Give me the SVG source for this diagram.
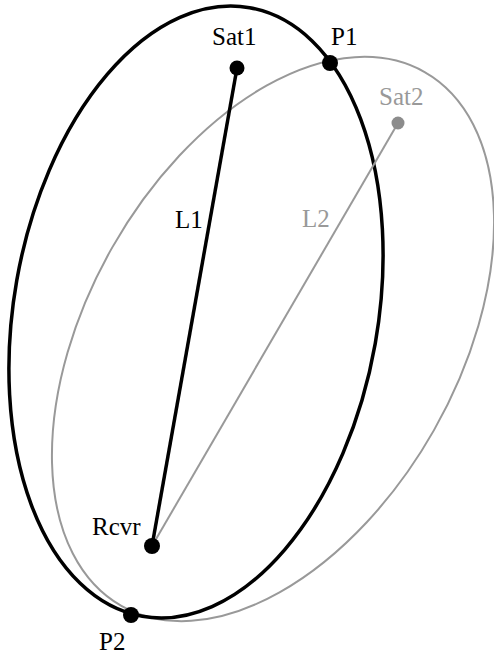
<svg xmlns="http://www.w3.org/2000/svg" width="494" height="655" viewBox="0 0 494 655">
<style>
.lbl{font-family:"Liberation Serif","Times New Roman",serif;font-size:25px;fill:#000}
.g{fill:#999}
.blk{fill:none;stroke:#000;stroke-width:3.5}
.gry{fill:none;stroke:#999;stroke-width:2}
.dot{fill:#000}
</style>
<rect width="494" height="655" fill="#fff"/>
<g id="ellipses">
<ellipse id="ellipse-sat2" class="gry" cx="273" cy="339" rx="185" ry="307" transform="rotate(29.6 273 339)"/>
<ellipse id="ellipse-sat1" class="blk" cx="196" cy="312" rx="182" ry="309" transform="rotate(10 196 312)"/>
</g>
<g id="connectors">
<line id="L1-line" x1="237" y1="68" x2="152" y2="546" stroke="#000" stroke-width="3.5"/>
<line id="L2-line" x1="398" y1="123" x2="152" y2="546" stroke="#999" stroke-width="2"/>
</g>
<g id="Sat1"><circle class="dot" cx="237" cy="68" r="7.5"/><text class="lbl" x="212" y="45">Sat1</text></g>
<g id="P1"><circle class="dot" cx="330" cy="63" r="8"/><text class="lbl" x="331" y="45">P1</text></g>
<g id="Sat2"><circle cx="398" cy="123" r="6.5" fill="#8c8c8c"/><text class="lbl g" x="379" y="105">Sat2</text></g>
<g id="Rcvr"><circle class="dot" cx="152" cy="546" r="8"/><text class="lbl" x="92" y="535">Rcvr</text></g>
<g id="P2"><circle class="dot" cx="131" cy="615" r="8"/><text class="lbl" x="99" y="650">P2</text></g>
<g id="L1"><text class="lbl" x="175" y="228">L1</text></g>
<g id="L2"><text class="lbl g" x="302" y="227">L2</text></g>
</svg>
